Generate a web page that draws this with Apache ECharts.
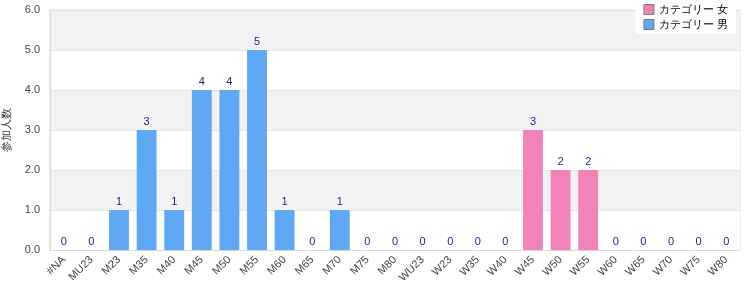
<!DOCTYPE html>
<html><head><meta charset="utf-8">
<script src="https://cdn.jsdelivr.net/npm/echarts@6/dist/echarts.min.js"></script>
<style>html,body{margin:0;padding:0;background:#fff}#c{width:750px;height:300px}</style>
</head><body><div id="c"></div>
<script>
const categories = ['#NA','MU23','M23','M35','M40','M45','M50','M55','M60','M65','M70','M75','M80','WU23','W23','W35','W40','W45','W50','W55','W60','W65','W70','W75','W80'];
const maleValues =   [0,0,1,3,1,4,4,5,1,0,1,0,0,0,0,0,0,null,null,null,0,0,0,0,0];
const femaleValues = [null,null,null,null,null,null,null,null,null,null,null,null,null,null,null,null,null,3,2,2,null,null,null,null,null];
const yTicks = [0,1,2,3,4,5,6];
const femaleName = 'カテゴリー 女';
const maleName = 'カテゴリー 男';
const yName = '参加人数';

const chart = echarts.init(document.getElementById('c'));
const lbl = {show:true, position:'top', color:'#1c1c8c', fontSize:11, fontFamily:'Liberation Sans, Arial', distance:3};
chart.setOption({
  animation:false,
  legend:{
    data:[
      {name:femaleName, itemStyle:{color:'#f283b8', borderColor:'#777', borderWidth:1}},
      {name:maleName, itemStyle:{color:'#5fa8f5', borderColor:'#777', borderWidth:1}}
    ],
    orient:'vertical', right:14, top:0,
    backgroundColor:'#fff', padding:[4,8,4,8], itemGap:4,
    itemWidth:10, itemHeight:10, icon:'rect',
    textStyle:{fontSize:11, color:'#000', fontFamily:'Liberation Sans, Arial'}
  },
  grid:{left:50, right:10, top:10, bottom:50, show:true, borderColor:'#dcdcdc', borderWidth:1, containLabel:false, outerBoundsMode:'none'},
  xAxis:{
    type:'category', data:categories,
    axisLine:{lineStyle:{color:'#d9d9d9'}}, axisTick:{show:false},
    axisLabel:{rotate:45, interval:0, color:'#444', fontSize:11, fontFamily:'Liberation Sans, Arial', margin:8}
  },
  yAxis:{
    type:'value', min:yTicks[0], max:yTicks[yTicks.length-1], interval:1,
    name:yName, nameLocation:'middle', nameGap:38, nameRotate:90,
    nameTextStyle:{fontSize:11, color:'#333'},
    axisLine:{show:true, lineStyle:{color:'#d9d9d9'}}, axisTick:{show:false},
    axisLabel:{formatter:v=>v.toFixed(1), color:'#444', fontSize:11, fontFamily:'Liberation Sans, Arial', margin:10},
    splitLine:{show:true, lineStyle:{color:'#e6e6e6'}},
    splitArea:{show:true, areaStyle:{color:['#ffffff','#f2f2f2']}}
  },
  series:[
    {name:femaleName, type:'bar', stack:'s', data:femaleValues, barWidth:'72%',
     itemStyle:{color:'#f283b8'}, label:lbl},
    {name:maleName, type:'bar', stack:'s', data:maleValues, barWidth:'72%',
     itemStyle:{color:'#5fa8f5'}, label:lbl}
  ]
});
</script></body></html>
